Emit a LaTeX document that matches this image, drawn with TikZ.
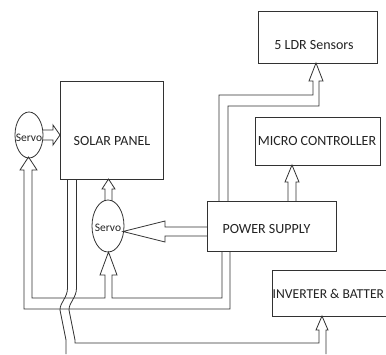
\documentclass[tikz,border=0pt]{standalone}
\usepackage{fontspec}
\setmainfont{Carlito}
\usetikzlibrary{shapes.geometric}
\definecolor{lc}{RGB}{50,50,50}
\definecolor{tc}{RGB}{35,35,35}
\begin{document}
\begin{tikzpicture}[x=1pt,y=-1pt,line join=miter,
  ln/.style={draw=lc,line width=0.8pt},
  box/.style={draw=lc,line width=0.9pt,inner sep=0pt,rectangle},
  lbl/.style={font=\fontsize{14}{16}\selectfont,text=tc,inner sep=0pt},
  slbl/.style={font=\fontsize{11.5}{13}\selectfont,text=tc,inner sep=0pt},
  servo/.style={ellipse,draw=lc,line width=0.8pt,inner sep=0pt}]
\useasboundingbox (0,0) rectangle (386,354);
\clip (0,0) rectangle (386,354);
\fill[white] (0,0) rectangle (386,354);
% boxes
\node[box,minimum width=103pt,minimum height=98pt] (solar) at (111.5,130) {};
\node[lbl] (solart) at (112,141.5) {SOLAR PANEL};
\node[box,minimum width=119pt,minimum height=52pt] (ldr) at (317.5,37) {};
\node[lbl] (ldrt) at (314,45) {5 LDR Sensors};
\node[box,minimum width=125pt,minimum height=48pt] (mc) at (317.5,141) {};
\node[lbl] (mct) at (317,141.5) {MICRO CONTROLLER};
\node[box,minimum width=129pt,minimum height=50pt] (ps) at (271.5,226) {};
\node[lbl] (pst) at (266.5,229.5) {POWER SUPPLY};
\node[box,minimum width=140pt,minimum height=46pt] (inv) at (342,293) {};
\node[lbl,font=\fontsize{13.6}{15}\selectfont,anchor=west] (invt) at (272.5,293.5) {INVERTER \& BATTER};
% servos
\node[servo,minimum width=28pt,minimum height=46pt] (servoL) at (29,135) {};
\node[slbl] (servoLt) at (29,137.5) {Servo};
\node[servo,minimum width=32pt,minimum height=52pt] (servoM) at (108,226) {};
\node[slbl] (servoMt) at (108,227.5) {Servo};
% power supply -> LDR sensors
\draw[ln] (219,201) -- (219,95) -- (313,95) -- (313,81) -- (309,81) -- (316,63)
  -- (323,81) -- (319,81) -- (319,106) -- (228,106) -- (228,201);
% power supply -> micro controller
\draw[ln] (288,201) -- (288,182) -- (285,182) -- (292,165) -- (299,182) -- (296,182) -- (296,201);
% power supply -> middle servo
\draw[ln] (207,227) -- (165,227) -- (165,221) -- (123,231.5) -- (165,242) -- (165,236) -- (207,236);
% middle servo -> solar panel
\draw[ln] (105,201) -- (105,189) -- (102,189) -- (108.5,179) -- (115,189) -- (112,189) -- (112,201);
% left servo -> solar panel
\draw[ln] (43,130) -- (53,130) -- (53,125) -- (60,135) -- (53,145) -- (53,140) -- (43,140);
% power supply -> both servos
\draw[ln] (230,251) -- (230,309) -- (24,309) -- (24,170) -- (20,170) -- (28.5,157)
  -- (37,170) -- (32,170) -- (32,298) -- (105,298) -- (105,275) -- (100,275)
  -- (108.5,252) -- (117,275) -- (112,275) -- (112,298) -- (222,298) -- (222,251);
% solar panel wires -> inverter & battery
\draw[ln] (67.5,179) -- (67.5,288) .. controls (67.5,298) and (60,302) .. (60,310)
  -- (66,340) -- (66,354);
\draw[ln] (76.5,179) -- (76.5,288) .. controls (76.5,298) and (69,302) .. (69,310)
  -- (75,340) -- (75,343) -- (319,343) -- (319,330) -- (316,330) -- (322,316)
  -- (328,330) -- (326,330) -- (326,354);
\end{tikzpicture}
\end{document}
